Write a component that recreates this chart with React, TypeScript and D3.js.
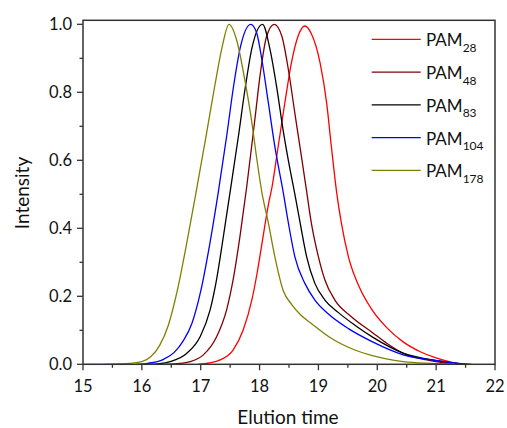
import React from "react";
import * as d3 from "d3";

const seriesNames = ["28", "48", "83", "104", "178"];
const seriesColors = ["#ff0000", "#800000", "#000000", "#0000ff", "#808000"];

const pam28: [number, number][] = [
  [16.96, 0], [17.15, 0.004], [17.33, 0.013], [17.55, 0.042], [17.72, 0.1], [17.87, 0.19],
  [17.96, 0.27], [18.05, 0.365], [18.15, 0.47], [18.21, 0.52], [18.32, 0.645], [18.43, 0.77],
  [18.55, 0.895], [18.66, 0.968], [18.77, 0.995], [18.88, 0.972], [19.03, 0.885], [19.14, 0.768],
  [19.22, 0.64], [19.31, 0.505], [19.39, 0.415], [19.51, 0.316], [19.7, 0.225], [19.9, 0.163],
  [20.16, 0.108], [20.44, 0.066], [20.73, 0.037], [21.01, 0.018], [21.29, 0.005], [21.45, 0],
];
const pam48: [number, number][] = [
  [16.4, 0], [16.6, 0.002], [16.82, 0.008], [17.04, 0.027], [17.27, 0.081], [17.44, 0.16],
  [17.55, 0.248], [17.67, 0.38], [17.78, 0.52], [17.92, 0.72], [18.01, 0.852], [18.12, 0.965],
  [18.25, 1.0], [18.38, 0.964], [18.49, 0.866], [18.6, 0.738], [18.72, 0.601], [18.8, 0.508],
  [18.88, 0.415], [19.0, 0.316], [19.11, 0.248], [19.28, 0.189], [19.56, 0.14], [19.92, 0.093],
  [20.16, 0.062], [20.44, 0.032], [20.9, 0.011], [21.4, 0],
];
const pam83: [number, number][] = [
  [16.1, 0], [16.3, 0.002], [16.48, 0.008], [16.76, 0.032], [16.99, 0.081], [17.16, 0.16],
  [17.27, 0.25], [17.38, 0.37], [17.5, 0.508], [17.64, 0.67], [17.75, 0.806], [17.87, 0.93],
  [18.05, 1.0], [18.18, 0.924], [18.29, 0.816], [18.4, 0.689], [18.52, 0.571], [18.6, 0.5],
  [18.69, 0.415], [18.8, 0.316], [18.94, 0.238], [19.11, 0.189], [19.34, 0.152], [19.62, 0.115],
  [19.92, 0.08], [20.44, 0.033], [21.01, 0.011], [21.5, 0],
];
const pam104: [number, number][] = [
  [15.9, 0], [16.1, 0.003], [16.36, 0.014], [16.55, 0.035], [16.7, 0.068], [16.85, 0.12],
  [17.0, 0.215], [17.15, 0.35], [17.3, 0.508], [17.44, 0.67], [17.56, 0.82], [17.67, 0.93],
  [17.85, 1.0], [17.95, 0.975], [18.04, 0.895], [18.15, 0.768], [18.26, 0.64], [18.4, 0.508],
  [18.49, 0.415], [18.6, 0.316], [18.77, 0.238], [18.94, 0.189], [19.17, 0.148], [19.51, 0.105],
  [19.92, 0.066], [20.44, 0.028], [21.01, 0.011], [21.3, 0.004], [21.6, 0],
];
const pam178: [number, number][] = [
  [15.0, 0], [15.3, 0], [15.6, 0.001], [15.8, 0.003], [16.0, 0.008], [16.15, 0.022], [16.3, 0.055],
  [16.45, 0.115], [16.6, 0.215], [16.75, 0.345], [16.92, 0.505], [17.1, 0.68], [17.24, 0.82],
  [17.36, 0.93], [17.48, 1.0], [17.61, 0.954], [17.75, 0.836], [17.87, 0.71], [17.94, 0.62],
  [18.04, 0.505], [18.15, 0.415], [18.26, 0.316], [18.4, 0.218], [18.55, 0.175], [18.7, 0.145],
  [18.88, 0.12], [19.23, 0.075], [19.62, 0.042], [19.9, 0.026], [20.44, 0.008], [20.9, 0.003],
  [21.32, 0.001],
];
const seriesData = [pam28, pam48, pam83, pam104, pam178];

const xTicks = [15, 16, 17, 18, 19, 20, 21, 22];
const yTicks = [0, 0.2, 0.4, 0.6, 0.8, 1.0];
const xTitle = "Elution time";
const yTitle = "Intensity";

const FONT = "Lato, 'Open Sans', sans-serif";

export default function App() {
  const W = 507, H = 428;
  const left = 83, right = 495, top = 20.3, bottom = 364.3;
  const x = d3.scaleLinear().domain([15, 22]).range([left, right]);
  const y = d3.scaleLinear().domain([0, 1.0118]).range([bottom, top]);
  const line = d3
    .line<[number, number]>()
    .x((d) => x(d[0]))
    .y((d) => y(d[1]))
    .curve(d3.curveMonotoneX);

  const xMinor = d3.range(15.5, 22, 1);
  const yMinor = d3.range(0.1, 1.0, 0.2);

  const legX0 = 371.7, legX1 = 420.7, legY0 = 39.3, legDy = 32.75;

  return (
    <svg width={W} height={H} style={{ position: "absolute", left: 0, top: 0 }} fontFamily={FONT}>
      <rect x={0} y={0} width={W} height={H} fill="#fff" />
      <g>
        {seriesData.map((d, i) => (
          <path key={i} d={line(d) || ""} fill="none" stroke={seriesColors[i]} strokeWidth={1.3} />
        ))}
      </g>
      <rect x={left} y={top} width={right - left} height={bottom - top} fill="none" stroke="#333" strokeWidth={1.5} />
      {xTicks.map((t) => (
        <g key={"xt" + t}>
          <line x1={x(t)} x2={x(t)} y1={bottom} y2={bottom + 6} stroke="#333" strokeWidth={1.3} />
          <text x={x(t)} y={391.5} textAnchor="middle" fontSize={16.5} fill="#111">
            {t}
          </text>
        </g>
      ))}
      {xMinor.map((t) => (
        <line key={"xm" + t} x1={x(t)} x2={x(t)} y1={bottom} y2={bottom + 3.5} stroke="#333" strokeWidth={1.3} />
      ))}
      {yTicks.map((t) => (
        <g key={"yt" + t}>
          <line x1={left - 6} x2={left} y1={y(t)} y2={y(t)} stroke="#333" strokeWidth={1.3} />
          <text x={72} y={y(t)} dy="0.36em" textAnchor="end" fontSize={16.5} fill="#111">
            {d3.format(".1f")(t)}
          </text>
        </g>
      ))}
      {yMinor.map((t) => (
        <line key={"ym" + t} x1={left - 3.5} x2={left} y1={y(t)} y2={y(t)} stroke="#333" strokeWidth={1.3} />
      ))}
      <text x={288} y={424} textAnchor="middle" fontSize={19} fill="#111">
        {xTitle}
      </text>
      <text transform={`translate(28.7,193) rotate(-90)`} textAnchor="middle" fontSize={19} fill="#111">
        {yTitle}
      </text>
      {seriesNames.map((n, i) => (
        <g key={"lg" + n}>
          <line x1={legX0} x2={legX1} y1={legY0 + i * legDy} y2={legY0 + i * legDy} stroke={seriesColors[i]} strokeWidth={1.3} />
          <text x={426} y={legY0 + i * legDy + 7} fontSize={17} fill="#111">
            PAM
            <tspan fontSize={12} dy={5.5}>{n}</tspan>
          </text>
        </g>
      ))}
    </svg>
  );
}
